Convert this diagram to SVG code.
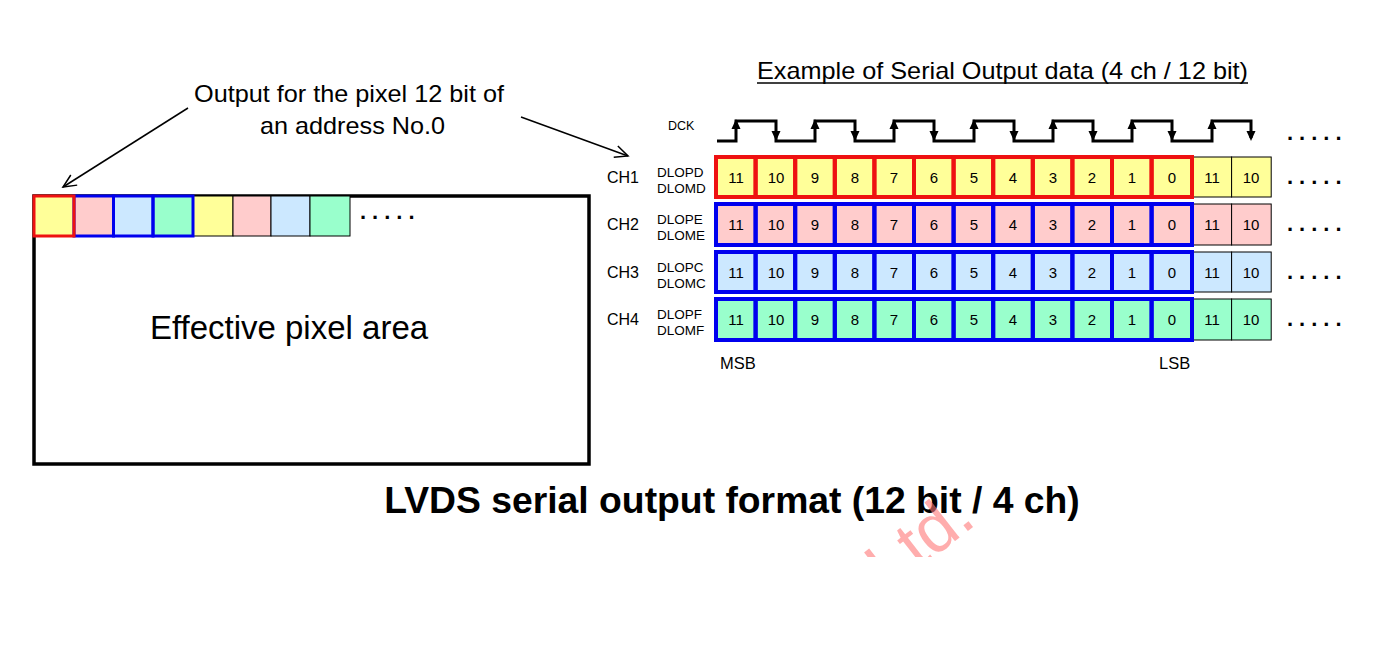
<svg xmlns="http://www.w3.org/2000/svg" width="1389" height="648" viewBox="0 0 1389 648">
<style>
text{font-family:"Liberation Sans",Arial,sans-serif;fill:#000}
.num{font-size:15px;text-anchor:middle}
.ch{font-size:16px}
.sig{font-size:13.5px}
.dots{font-size:22px;font-weight:bold;letter-spacing:6px}
.y{fill:#FFFF99}.p{fill:#FFCCCC}.b{fill:#CCE8FF}.g{fill:#99FFCC}
.thin{stroke:#000;stroke-width:1}
.red{stroke:#EE1111;stroke-width:4;fill:none}
.blue{stroke:#0000EE;stroke-width:4;fill:none}
.redL{stroke:#EE1111;stroke-width:3;fill:none}
.blueL{stroke:#0000EE;stroke-width:3;fill:none}
.conn{stroke:#000;stroke-width:1.5;fill:none}
</style>
<defs>
<marker id="open" markerUnits="userSpaceOnUse" markerWidth="20" markerHeight="20" refX="14" refY="7" orient="auto" viewBox="0 0 20 14">
<path d="M1,1 L14,7 L1,13" fill="none" stroke="#000" stroke-width="1.5"/>
</marker>
<clipPath id="wm"><rect x="0" y="0" width="1389" height="557"/></clipPath>
</defs>

<!-- Left: effective pixel area -->
<g id="pixel-area">
<rect x="34" y="196" width="555" height="268" fill="none" stroke="#000" stroke-width="3.5"/>
<text x="289" y="339" font-size="33" text-anchor="middle">Effective pixel area</text>
</g>
<g id="pixel-row">
<rect class="y thin" x="34" y="196" width="40" height="40"/>
<rect class="p thin" x="74" y="196" width="39.5" height="40"/>
<rect class="b thin" x="113.5" y="196" width="39.5" height="40"/>
<rect class="g thin" x="153" y="196" width="40" height="40"/>
<rect class="y thin" x="193" y="196" width="40" height="40"/>
<rect class="p thin" x="233" y="196" width="38" height="40"/>
<rect class="b thin" x="271" y="196" width="39" height="40"/>
<rect class="g thin" x="310" y="196" width="40" height="40"/>
<rect class="blueL" x="74" y="196" width="39.5" height="40"/>
<rect class="blueL" x="113.5" y="196" width="39.5" height="40"/>
<rect class="blueL" x="153" y="196" width="40" height="40"/>
<rect class="redL" x="34" y="196" width="40" height="40"/>
<text class="dots" x="360" y="219">.....</text>
</g>
<g id="annotation">
<text x="194" y="102" font-size="24" textLength="310" lengthAdjust="spacingAndGlyphs">Output for the pixel 12 bit of</text>
<text x="260" y="134" font-size="24" textLength="185" lengthAdjust="spacingAndGlyphs">an address No.0</text>
</g>

<!-- Right: serial output -->
<g id="title-right">
<text x="757" y="79" font-size="24" textLength="491" lengthAdjust="spacingAndGlyphs">Example of Serial Output data (4 ch / 12 bit)</text>
<line x1="757" y1="83" x2="1248" y2="83" stroke="#000" stroke-width="1.5"/>
</g>

<g id="dck">
<text x="668" y="130" font-size="12.5">DCK</text>
<path d="M717,141 H736 V121 H776 V141 H815 V121 H855 V141 H894 V121 H934 V141 H974 V121 H1014 V141 H1053 V121 H1093 V141 H1132 V121 H1172 V141 H1212 V121 H1251 V138" fill="none" stroke="#000" stroke-width="3"/>
<g fill="#000">
<path d="M736,119 l-4.5,10 h9 z"/><path d="M815,119 l-4.5,10 h9 z"/><path d="M894,119 l-4.5,10 h9 z"/><path d="M974,119 l-4.5,10 h9 z"/><path d="M1053,119 l-4.5,10 h9 z"/><path d="M1132,119 l-4.5,10 h9 z"/><path d="M1212,119 l-4.5,10 h9 z"/>
<path d="M776,141 l-4.5,-10 h9 z"/><path d="M855,141 l-4.5,-10 h9 z"/><path d="M934,141 l-4.5,-10 h9 z"/><path d="M1014,141 l-4.5,-10 h9 z"/><path d="M1093,141 l-4.5,-10 h9 z"/><path d="M1172,141 l-4.5,-10 h9 z"/><path d="M1251,141 l-4.5,-10 h9 z"/>
</g>
<text class="dots" x="1287" y="140">.....</text>
</g>

<g id="ch1">
<text class="ch" x="607" y="183">CH1</text>
<text class="sig" x="657" y="177">DLOPD</text>
<text class="sig" x="657" y="193">DLOMD</text>
<g class="y thin">
<rect x="1192" y="157" width="39.6" height="40"/><rect x="1231.6" y="157" width="39.6" height="40"/>
<rect x="716" y="157" width="476" height="40"/>
</g>
<g class="red">
<rect x="716" y="157" width="39.6" height="40"/><rect x="755.6" y="157" width="39.6" height="40"/><rect x="795.2" y="157" width="39.6" height="40"/><rect x="834.8" y="157" width="39.6" height="40"/><rect x="874.4" y="157" width="39.6" height="40"/><rect x="914" y="157" width="39.6" height="40"/><rect x="953.6" y="157" width="39.6" height="40"/><rect x="993.2" y="157" width="39.6" height="40"/><rect x="1032.8" y="157" width="39.6" height="40"/><rect x="1072.4" y="157" width="39.6" height="40"/><rect x="1112" y="157" width="39.6" height="40"/><rect x="1151.6" y="157" width="40.4" height="40"/>
</g>
<g class="num">
<text x="736" y="182.5">11</text><text x="776" y="182.5">10</text><text x="815" y="182.5">9</text><text x="855" y="182.5">8</text><text x="894" y="182.5">7</text><text x="934" y="182.5">6</text><text x="974" y="182.5">5</text><text x="1013" y="182.5">4</text><text x="1053" y="182.5">3</text><text x="1092" y="182.5">2</text><text x="1132" y="182.5">1</text><text x="1172" y="182.5">0</text><text x="1212" y="182.5">11</text><text x="1251" y="182.5">10</text>
</g>
<text class="dots" x="1287" y="184">.....</text>
</g>

<g id="ch2">
<text class="ch" x="607" y="230">CH2</text>
<text class="sig" x="657" y="224">DLOPE</text>
<text class="sig" x="657" y="240">DLOME</text>
<g class="p thin">
<rect x="1192" y="204" width="39.6" height="41"/><rect x="1231.6" y="204" width="39.6" height="41"/>
<rect x="716" y="204" width="476" height="41"/>
</g>
<g class="blue">
<rect x="716" y="204" width="39.6" height="41"/><rect x="755.6" y="204" width="39.6" height="41"/><rect x="795.2" y="204" width="39.6" height="41"/><rect x="834.8" y="204" width="39.6" height="41"/><rect x="874.4" y="204" width="39.6" height="41"/><rect x="914" y="204" width="39.6" height="41"/><rect x="953.6" y="204" width="39.6" height="41"/><rect x="993.2" y="204" width="39.6" height="41"/><rect x="1032.8" y="204" width="39.6" height="41"/><rect x="1072.4" y="204" width="39.6" height="41"/><rect x="1112" y="204" width="39.6" height="41"/><rect x="1151.6" y="204" width="40.4" height="41"/>
</g>
<g class="num">
<text x="736" y="230">11</text><text x="776" y="230">10</text><text x="815" y="230">9</text><text x="855" y="230">8</text><text x="894" y="230">7</text><text x="934" y="230">6</text><text x="974" y="230">5</text><text x="1013" y="230">4</text><text x="1053" y="230">3</text><text x="1092" y="230">2</text><text x="1132" y="230">1</text><text x="1172" y="230">0</text><text x="1212" y="230">11</text><text x="1251" y="230">10</text>
</g>
<text class="dots" x="1287" y="231">.....</text>
</g>

<g id="ch3">
<text class="ch" x="607" y="278">CH3</text>
<text class="sig" x="657" y="272">DLOPC</text>
<text class="sig" x="657" y="288">DLOMC</text>
<g class="b thin">
<rect x="1192" y="252" width="39.6" height="40"/><rect x="1231.6" y="252" width="39.6" height="40"/>
<rect x="716" y="252" width="476" height="40"/>
</g>
<g class="blue">
<rect x="716" y="252" width="39.6" height="40"/><rect x="755.6" y="252" width="39.6" height="40"/><rect x="795.2" y="252" width="39.6" height="40"/><rect x="834.8" y="252" width="39.6" height="40"/><rect x="874.4" y="252" width="39.6" height="40"/><rect x="914" y="252" width="39.6" height="40"/><rect x="953.6" y="252" width="39.6" height="40"/><rect x="993.2" y="252" width="39.6" height="40"/><rect x="1032.8" y="252" width="39.6" height="40"/><rect x="1072.4" y="252" width="39.6" height="40"/><rect x="1112" y="252" width="39.6" height="40"/><rect x="1151.6" y="252" width="40.4" height="40"/>
</g>
<g class="num">
<text x="736" y="277.5">11</text><text x="776" y="277.5">10</text><text x="815" y="277.5">9</text><text x="855" y="277.5">8</text><text x="894" y="277.5">7</text><text x="934" y="277.5">6</text><text x="974" y="277.5">5</text><text x="1013" y="277.5">4</text><text x="1053" y="277.5">3</text><text x="1092" y="277.5">2</text><text x="1132" y="277.5">1</text><text x="1172" y="277.5">0</text><text x="1212" y="277.5">11</text><text x="1251" y="277.5">10</text>
</g>
<text class="dots" x="1287" y="279">.....</text>
</g>

<g id="ch4">
<text class="ch" x="607" y="325">CH4</text>
<text class="sig" x="657" y="319">DLOPF</text>
<text class="sig" x="657" y="335">DLOMF</text>
<g class="g thin">
<rect x="1192" y="299" width="39.6" height="41"/><rect x="1231.6" y="299" width="39.6" height="41"/>
<rect x="716" y="299" width="476" height="41"/>
</g>
<g class="blue">
<rect x="716" y="299" width="39.6" height="41"/><rect x="755.6" y="299" width="39.6" height="41"/><rect x="795.2" y="299" width="39.6" height="41"/><rect x="834.8" y="299" width="39.6" height="41"/><rect x="874.4" y="299" width="39.6" height="41"/><rect x="914" y="299" width="39.6" height="41"/><rect x="953.6" y="299" width="39.6" height="41"/><rect x="993.2" y="299" width="39.6" height="41"/><rect x="1032.8" y="299" width="39.6" height="41"/><rect x="1072.4" y="299" width="39.6" height="41"/><rect x="1112" y="299" width="39.6" height="41"/><rect x="1151.6" y="299" width="40.4" height="41"/>
</g>
<g class="num">
<text x="736" y="325">11</text><text x="776" y="325">10</text><text x="815" y="325">9</text><text x="855" y="325">8</text><text x="894" y="325">7</text><text x="934" y="325">6</text><text x="974" y="325">5</text><text x="1013" y="325">4</text><text x="1053" y="325">3</text><text x="1092" y="325">2</text><text x="1132" y="325">1</text><text x="1172" y="325">0</text><text x="1212" y="325">11</text><text x="1251" y="325">10</text>
</g>
<text class="dots" x="1287" y="326">.....</text>
</g>

<g id="bit-labels">
<text x="720" y="369" font-size="16.5">MSB</text>
<text x="1159" y="369" font-size="16.5">LSB</text>
</g>

<g id="connectors">
<line class="conn" x1="188" y1="108" x2="63" y2="187" marker-end="url(#open)"/>
<line class="conn" x1="521" y1="117" x2="628" y2="156" marker-end="url(#open)"/>
</g>

<g id="caption">
<text x="732" y="513" font-size="37.3" font-weight="bold" text-anchor="middle">LVDS serial output format (12 bit / 4 ch)</text>
</g>

<g id="watermark" clip-path="url(#wm)">
<text x="978" y="523" font-size="68" text-anchor="end" transform="rotate(-38 978 523)" style="fill:#FF7777;opacity:0.6">Ltd.</text>
</g>
</svg>
